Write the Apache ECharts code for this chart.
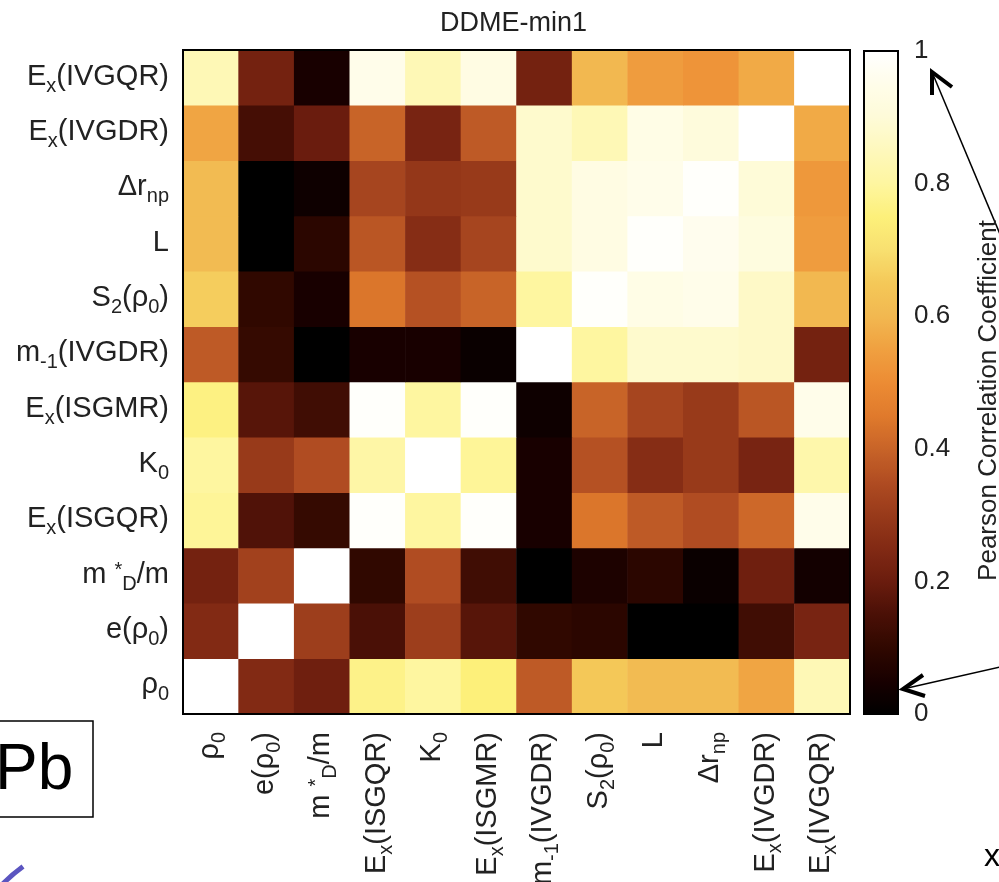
<!DOCTYPE html>
<html>
<head>
<meta charset="UTF-8">
<title>DDME-min1</title>
<style>
  html, body { margin: 0; padding: 0; background: #fff; }
  #chart { width: 999px; height: 882px; }
</style>
</head>
<body>
<div id="chart"></div>
<script src="https://cdn.jsdelivr.net/npm/echarts@6/dist/echarts.min.js"></script>
<script>
// variables, bottom-to-top on y and left-to-right on x
var labels = ['ρ0', 'e(ρ0)', 'm*D/m', 'Ex(ISGQR)', 'K0', 'Ex(ISGMR)', 'm-1(IVGDR)', 'S2(ρ0)', 'L', 'Δrnp', 'Ex(IVGDR)', 'Ex(IVGQR)'];

// one row per variable, values in the column order of labels
var rowRho0  = [1.00, 0.25, 0.21, 0.77, 0.80, 0.75, 0.38, 0.65, 0.61, 0.61, 0.56, 0.84];
var rowE     = [0.25, 1.00, 0.31, 0.15, 0.31, 0.17, 0.10, 0.09, 0.00, 0.00, 0.13, 0.23];
var rowMstar = [0.22, 0.32, 1.00, 0.10, 0.35, 0.13, 0.00, 0.06, 0.09, 0.02, 0.21, 0.04];
var rowISGQR = [0.79, 0.16, 0.11, 0.99, 0.80, 0.99, 0.05, 0.44, 0.38, 0.35, 0.41, 0.95];
var rowK0    = [0.80, 0.30, 0.35, 0.81, 1.00, 0.79, 0.05, 0.36, 0.26, 0.30, 0.23, 0.82];
var rowISGMR = [0.76, 0.17, 0.13, 0.99, 0.80, 0.99, 0.03, 0.40, 0.33, 0.30, 0.37, 0.95];
var rowM1    = [0.38, 0.11, 0.00, 0.05, 0.05, 0.02, 1.00, 0.80, 0.88, 0.88, 0.87, 0.22];
var rowS2    = [0.66, 0.10, 0.05, 0.44, 0.36, 0.40, 0.80, 0.99, 0.94, 0.95, 0.87, 0.60];
var rowL     = [0.61, 0.00, 0.09, 0.37, 0.26, 0.33, 0.88, 0.93, 0.99, 0.96, 0.92, 0.54];
var rowDr    = [0.61, 0.00, 0.03, 0.33, 0.29, 0.30, 0.88, 0.93, 0.95, 0.99, 0.90, 0.53];
var rowIVGDR = [0.56, 0.14, 0.20, 0.40, 0.23, 0.38, 0.88, 0.84, 0.94, 0.91, 1.00, 0.57];
var rowIVGQR = [0.84, 0.22, 0.05, 0.95, 0.84, 0.93, 0.22, 0.60, 0.54, 0.52, 0.57, 1.00];

var rows = [rowRho0, rowE, rowMstar, rowISGQR, rowK0, rowISGMR, rowM1, rowS2, rowL, rowDr, rowIVGDR, rowIVGQR];

var cbTicks = [0, 0.2, 0.4, 0.6, 0.8, 1];

// afmhot-like palette
var palette = ['#000000', '#180000', '#300800', '#4a1006', '#6a1c0e', '#822a14', '#983a1a',
  '#b04c22', '#c86428', '#e07a2c', '#ec8c34', '#f0a040', '#f2b850', '#f4c858', '#f8e070',
  '#fdf07a', '#fef6a0', '#fef8bc', '#fefbd8', '#fffdea', '#ffffff'];

// labels with sub/superscripts as rich text
var richText = {
  'ρ0': '{n|ρ}{s|0}',
  'e(ρ0)': '{n|e(ρ}{s|0}{n|)}',
  'm*D/m': '{n|m }{p|*}{s|D}{n|/m}',
  'Ex(ISGQR)': '{n|E}{s|x}{n|(ISGQR)}',
  'K0': '{n|K}{s|0}',
  'Ex(ISGMR)': '{n|E}{s|x}{n|(ISGMR)}',
  'm-1(IVGDR)': '{n|m}{s|-1}{n|(IVGDR)}',
  'S2(ρ0)': '{n|S}{s|2}{n|(ρ}{s|0}{n|)}',
  'L': '{n|L}',
  'Δrnp': '{n|Δr}{s|np}',
  'Ex(IVGDR)': '{n|E}{s|x}{n|(IVGDR)}',
  'Ex(IVGQR)': '{n|E}{s|x}{n|(IVGQR)}'
};

var font = 'Liberation Sans, Arial, Helvetica, sans-serif';
var txt = '#222';
var rich = {
  n: { fontSize: 29, lineHeight: 31, verticalAlign: 'top', color: txt, fontFamily: font },
  s: { fontSize: 20, lineHeight: 20, padding: [14, 0, 0, 0], verticalAlign: 'top', color: txt, fontFamily: font },
  p: { fontSize: 20, lineHeight: 20, verticalAlign: 'top', color: txt, fontFamily: font }
};

var data = [];
for (var i = 0; i < rows.length; i++) {
  for (var j = 0; j < rows[i].length; j++) {
    data.push([j, i, rows[i][j]]);
  }
}

var chart = echarts.init(document.getElementById('chart'));
var option = {
  backgroundColor: '#fff',
  animation: false,
  title: {
    text: 'DDME-min1',
    left: 440,
    top: 10,
    padding: 0,
    textStyle: { fontSize: 27, fontWeight: 'normal', color: txt, fontFamily: font }
  },
  grid: [
    { left: 183, top: 50, width: 667, height: 664, outerBoundsMode: 'none', show: true,
      borderColor: '#000', borderWidth: 2, backgroundColor: 'transparent', z: 10 },
    { left: 864, top: 51, width: 34, height: 663, outerBoundsMode: 'none', show: true,
      borderColor: '#000', borderWidth: 2, backgroundColor: 'transparent', z: 10 }
  ],
  xAxis: [
    {
      type: 'category', gridIndex: 0, data: labels,
      axisLine: { show: false }, axisTick: { show: false }, splitLine: { show: false },
      axisLabel: {
        interval: 0, rotate: 90, margin: 18, rich: rich,
        formatter: function (v) { return richText[v]; }
      }
    },
    { type: 'value', gridIndex: 1, show: false }
  ],
  yAxis: [
    {
      type: 'category', gridIndex: 0, data: labels,
      axisLine: { show: false }, axisTick: { show: false }, splitLine: { show: false },
      axisLabel: {
        interval: 0, margin: 14, rich: rich,
        formatter: function (v) { return richText[v]; }
      }
    },
    {
      type: 'value', gridIndex: 1, position: 'right', min: 0, max: 1, interval: 0.2,
      axisLine: { show: false }, axisTick: { show: false }, splitLine: { show: false },
      axisLabel: {
        margin: 16, fontSize: 26, color: txt, fontFamily: font,
        customValues: cbTicks
      },
      name: 'Pearson Correlation Coefficient',
      nameLocation: 'middle',
      nameRotate: 90,
      nameGap: 78,
      nameTextStyle: { fontSize: 26, color: txt, fontFamily: font, padding: [0, 36, 0, 0] }
    }
  ],
  visualMap: {
    type: 'continuous',
    min: 0,
    max: 1,
    seriesIndex: 0,
    dimension: 2,
    calculable: false,
    hoverLink: false,
    left: 864,
    top: 51,
    padding: 0,
    itemWidth: 34,
    itemHeight: 663,
    inRange: { color: palette }
  },
  series: [{
    type: 'heatmap',
    xAxisIndex: 0,
    yAxisIndex: 0,
    data: data,
    progressive: 0,
    emphasis: { disabled: true }
  }],
  graphic: [
    { type: 'rect', shape: { x: -3, y: 721, width: 96, height: 96 },
      style: { fill: '#fff', stroke: '#000', lineWidth: 1.5 } },
    { type: 'text', x: -5, y: 771,
      style: { text: 'Pb', fontSize: 64, fill: '#000', fontFamily: font, verticalAlign: 'middle' } },
    { type: 'line', shape: { x1: 932, y1: 72, x2: 1005, y2: 246 }, style: { stroke: '#000', lineWidth: 1.5 } },
    { type: 'polyline', shape: { points: [[932, 95], [932, 72], [952, 87]] },
      style: { stroke: '#000', lineWidth: 4, fill: null } },
    { type: 'line', shape: { x1: 903, y1: 689, x2: 1005, y2: 666 }, style: { stroke: '#000', lineWidth: 1.5 } },
    { type: 'polyline', shape: { points: [[923, 675], [903, 689], [925, 696]] },
      style: { stroke: '#000', lineWidth: 4, fill: null } },
    { type: 'text', x: 984, y: 857,
      style: { text: 'x', fontSize: 32, fill: '#000', fontFamily: font, verticalAlign: 'middle' } },
    { type: 'arc', shape: { cx: 120, cy: 1000, r: 165, startAngle: Math.PI * 1.2, endAngle: Math.PI * 1.3 },
      style: { stroke: '#5b55c0', lineWidth: 5, fill: null } }
  ]
};
chart.setOption(option);
</script>
</body>
</html>
